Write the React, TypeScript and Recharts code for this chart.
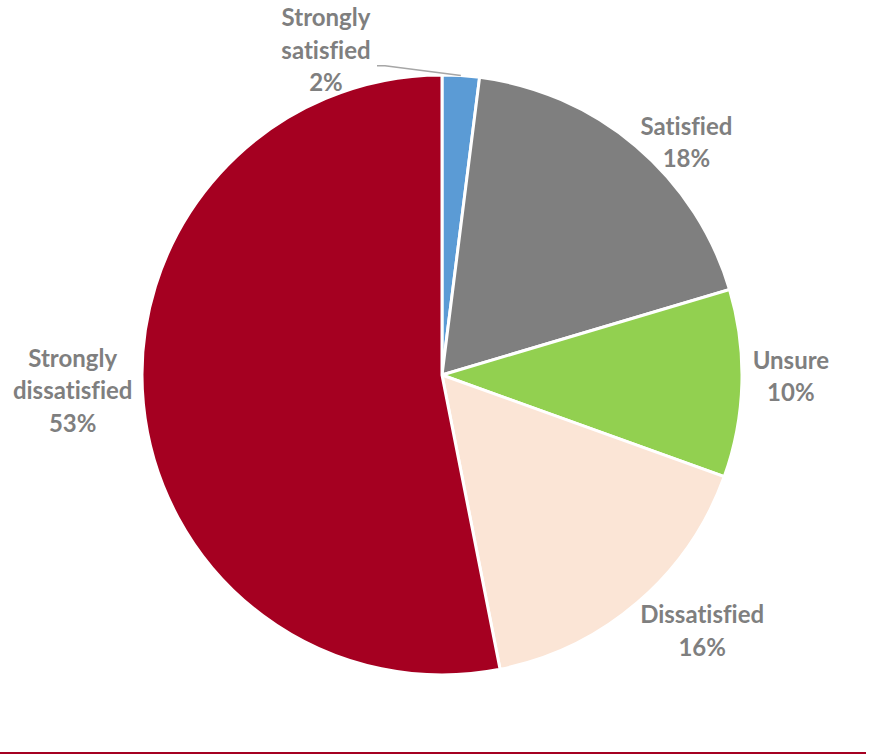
import { PieChart, Pie, Cell } from "recharts";

const categories = [
  "Strongly satisfied",
  "Satisfied",
  "Unsure",
  "Dissatisfied",
  "Strongly dissatisfied",
];
const shares = [2.0, 18.4, 10.1, 16.4, 53.1];
const colors = ["#5b9bd5", "#7f7f7f", "#92d050", "#fbe5d6", "#a50021"];

// label nudges from the default outside spot (layout only)
const labelNudge = [
  [-138, 25],
  [18, 35],
  [-1, -8],
  [32, -9],
  [-21, -18],
];

const data = categories.map((name, i) => ({ name, value: shares[i] }));

const RAD = Math.PI / 180;
const LINE = 32.5;

const renderLabel = (props: any) => {
  const { cx, cy, midAngle, outerRadius, index, percent } = props;
  const r = outerRadius + 50;
  const x = cx + r * Math.cos(-midAngle * RAD) + labelNudge[index][0];
  const y = cy + r * Math.sin(-midAngle * RAD) + labelNudge[index][1];
  const lines = [...categories[index].split(" "), `${Math.round(percent * 100)}%`];
  const top = y - ((lines.length - 1) * LINE) / 2;
  const ex = cx + outerRadius * Math.cos(-midAngle * RAD);
  const ey = cy + outerRadius * Math.sin(-midAngle * RAD);
  return (
    <g key={`lbl-${index}`}>
      {index === 0 && (
        <polyline
          points={`${ex},${ey} ${x + 59},${y + 15} ${x + 51},${y + 15}`}
          fill="none"
          stroke="#a6a6a6"
          strokeWidth={1.5}
        />
      )}
      <text
        x={x}
        y={top}
        textAnchor="middle"
        fill="#7f7f7f"
        fontFamily="Lato, 'Open Sans', sans-serif"
        fontWeight={700}
        fontSize={24}
        style={{ fontVariantLigatures: "none" }}
      >
        {lines.map((t, i) => (
          <tspan key={i} x={x} y={top + i * LINE} dy={8}>
            {t}
          </tspan>
        ))}
      </text>
    </g>
  );
};

export default function App() {
  return (
    <div
      style={{
        position: "absolute",
        left: 0,
        top: 0,
        width: 870,
        height: 755,
        background: "#fff",
      }}
    >
      <PieChart width={870} height={755} margin={{ top: 0, right: 0, bottom: 0, left: 0 }}>
        <Pie
          data={data}
          dataKey="value"
          nameKey="name"
          cx={442}
          cy={375}
          outerRadius={300}
          startAngle={90}
          endAngle={-270}
          stroke="#ffffff"
          strokeWidth={3}
          label={renderLabel}
          labelLine={false}
          isAnimationActive={false}
        >
          {data.map((d, i) => (
            <Cell key={d.name} fill={colors[i]} />
          ))}
        </Pie>
      </PieChart>
      <div
        style={{
          position: "absolute",
          left: 0,
          top: 752,
          width: 866,
          height: 2,
          background: "#a50021",
        }}
      />
    </div>
  );
}
